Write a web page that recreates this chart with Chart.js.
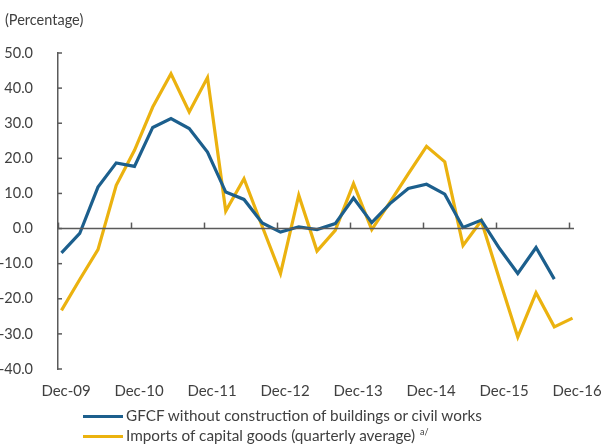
<!DOCTYPE html>
<html>
<head>
<meta charset="utf-8">
<script src="https://cdn.jsdelivr.net/npm/chart.js@4/dist/chart.umd.min.js"></script>
<style>
  html, body { margin:0; padding:0; background:#fff; }
  #wrap { position:relative; width:602px; height:445px; font-family: Lato, "Open Sans", sans-serif; color:#404040; }
  #c { position:absolute; left:0; top:0; }
  #title { position:absolute; left:5px; top:11px; font-size:14.5px; white-space:nowrap; }
  .leg { position:absolute; left:83px; font-size:15.3px; white-space:nowrap; height:20px; line-height:20px; }
  .leg .sw { display:inline-block; width:40px; height:3px; vertical-align:middle; margin-right:3px; position:relative; top:-1px; }
  .leg sup { font-size:9px; vertical-align:top; position:relative; top:-3px; margin-left:5px; }
</style>
</head>
<body>
<div id="wrap">
  <canvas id="c" width="602" height="445"></canvas>
  <div id="title">(Percentage)</div>
  <div class="leg" id="leg1" style="top:405px;"><span class="sw" style="background:#1c5f8d"></span>GFCF without construction of buildings or civil works</div>
  <div class="leg" id="leg2" style="top:425px;"><span class="sw" style="background:#ebb20f"></span>Imports of capital goods (quarterly average)<sup>a/</sup></div>
</div>
<script>
// Quarterly periods Dec-09 ... Dec-16
const quarters = ["Dec-09","Mar-10","Jun-10","Sep-10","Dec-10","Mar-11","Jun-11","Sep-11","Dec-11","Mar-12","Jun-12","Sep-12","Dec-12","Mar-13","Jun-13","Sep-13","Dec-13","Mar-14","Jun-14","Sep-14","Dec-14","Mar-15","Jun-15","Sep-15","Dec-15","Mar-16","Jun-16","Sep-16","Dec-16"];
const xTickLabels = ["Dec-09","Dec-10","Dec-11","Dec-12","Dec-13","Dec-14","Dec-15","Dec-16"];
const gfcfValues = [-6.9,-1.4,11.8,18.7,17.7,28.8,31.3,28.5,21.8,10.4,8.3,1.6,-1.0,0.5,-0.3,1.4,8.7,1.7,7.1,11.4,12.6,9.8,0.3,2.4,-5.7,-12.8,-5.4,-14.4,null];
const importsValues = [-23.3,-14.5,-6.0,12.3,22.3,34.6,44.1,33.2,43.0,5.0,14.2,0.6,-12.8,9.5,-6.4,-0.5,12.8,-0.3,7.5,15.6,23.4,19.0,-4.8,2.2,-14.5,-30.9,-18.3,-28.0,-25.5];
const yTicks = [50,40,30,20,10,0,-10,-20,-30,-40];

const BLUE = "#1c5f8d", GOLD = "#ebb20f", AXIS = "#5a5a5a", TEXT = "#404040";
const FONT = "Lato, 'Open Sans', sans-serif";

const toPts = arr => arr.map((v,i) => ({x:i, y:v}));

const axisMarks = {
  id: 'axisMarks',
  afterDatasetsDraw(chart) {
    const {ctx, chartArea, scales:{x, y}} = chart;
    const y0 = y.getPixelForValue(0);
    ctx.save();
    ctx.strokeStyle = AXIS;
    ctx.lineWidth = 1.5;
    ctx.beginPath();
    ctx.moveTo(chartArea.left, y0);
    ctx.lineTo(chartArea.right, y0);
    ctx.stroke();
    x.ticks.forEach(t => {
      const px = Math.round(x.getPixelForValue(t.value)) + 0.5;
      ctx.beginPath();
      ctx.moveTo(px, y0);
      ctx.lineTo(px, y0 - 6);
      ctx.stroke();
    });
    yTicks.forEach(v => {
      const py = y.getPixelForValue(v);
      ctx.beginPath();
      ctx.moveTo(chartArea.left, py);
      ctx.lineTo(chartArea.left + 4, py);
      ctx.stroke();
    });
    ctx.restore();
  }
};

new Chart(document.getElementById('c'), {
  type: 'line',
  data: {
    datasets: [
      { label: 'GFCF without construction of buildings or civil works', data: toPts(gfcfValues), borderColor: BLUE, borderWidth: 3.2, pointRadius: 0, tension: 0, spanGaps: false },
      { label: 'Imports of capital goods (quarterly average) a/', data: toPts(importsValues), borderColor: GOLD, borderWidth: 3.2, pointRadius: 0, tension: 0 }
    ]
  },
  options: {
    responsive: false,
    animation: false,
    events: [],
    layout: { padding: { left: 0, right: 28, top: 53, bottom: 46 } },
    plugins: { legend: { display: false }, tooltip: { enabled: false }, title: { display: false } },
    scales: {
      x: {
        type: 'linear',
        min: -0.19,
        max: 28.08,
        afterBuildTicks(scale) {
          scale.ticks = xTickLabels.map((_, k) => ({ value: 4*k - 0.19 }));
        },
        afterFit(scale) { scale.height = 30; },
        grid: { display: false },
        border: { display: false },
        ticks: {
          autoSkip: false,
          maxRotation: 0,
          padding: 5,
          labelOffset: 8,
          color: TEXT,
          font: { family: FONT, size: 15 },
          callback(value) { return xTickLabels[Math.round((value + 0.19) / 4)]; }
        }
      },
      y: {
        min: -40,
        max: 50,
        afterBuildTicks(scale) { scale.ticks = yTicks.map(v => ({ value: v })); },
        afterFit(scale) { scale.width = 58; },
        grid: { display: false },
        border: { display: true, color: AXIS, width: 1.5 },
        ticks: {
          padding: 17,
          color: TEXT,
          font: { family: FONT, size: 14.5 },
          callback(v) { return v.toFixed(1); }
        }
      }
    }
  },
  plugins: [axisMarks]
});
</script>
</body>
</html>
